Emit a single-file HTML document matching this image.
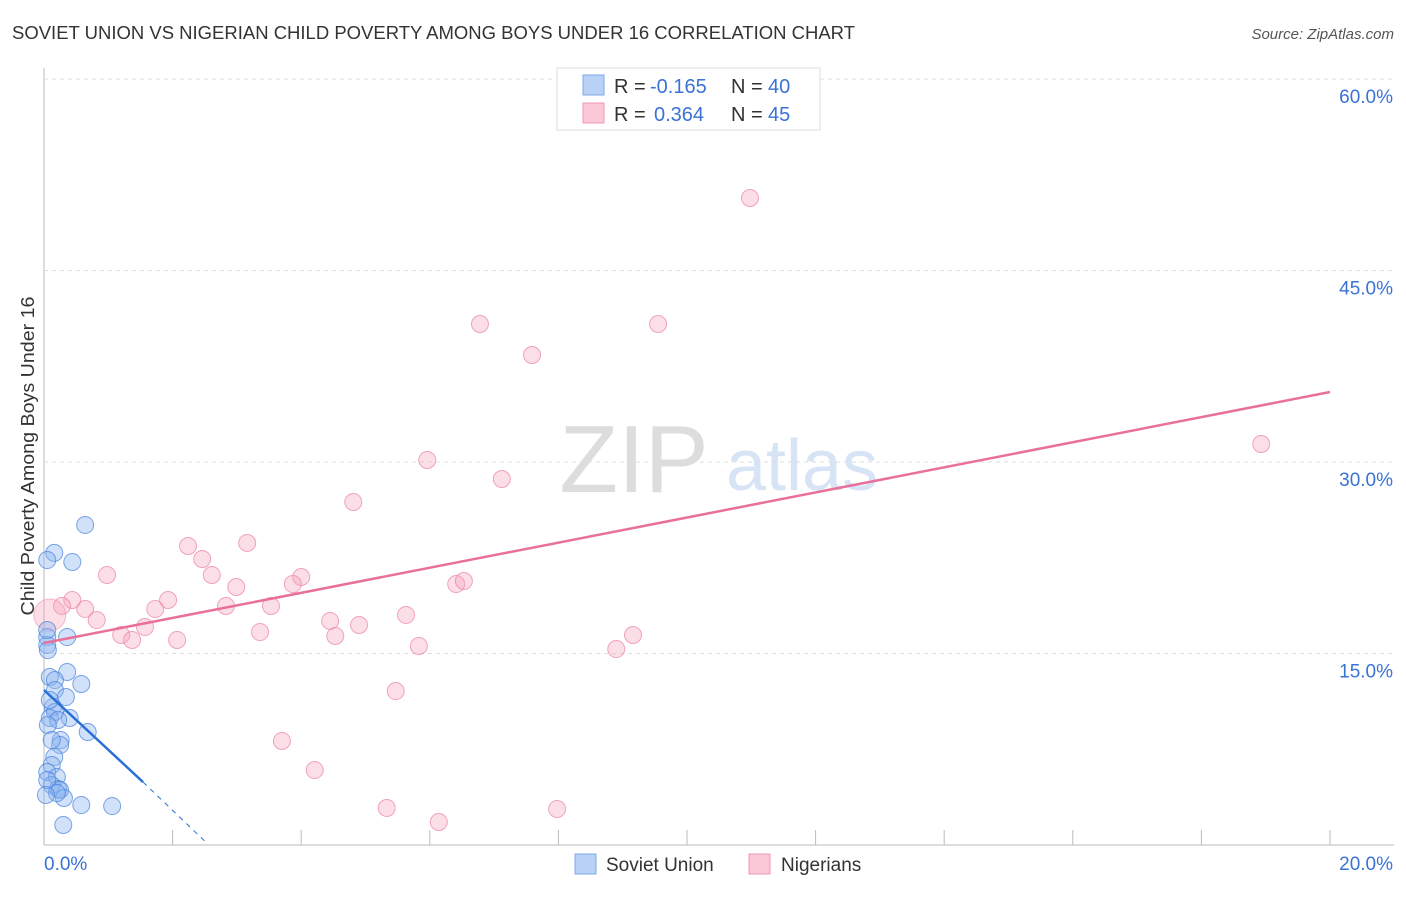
<!DOCTYPE html>
<html><head><meta charset="utf-8"><style>
body{margin:0;background:#fff;font-family:"Liberation Sans",sans-serif}
svg text{font-family:"Liberation Sans",sans-serif}
</style></head><body>
<svg id="chart" width="1406" height="892">
<text x="12" y="39" font-size="18" fill="#333" textLength="843" lengthAdjust="spacingAndGlyphs">SOVIET UNION VS NIGERIAN CHILD POVERTY AMONG BOYS UNDER 16 CORRELATION CHART</text>
<text x="1394" y="39" font-size="15" fill="#555" text-anchor="end" font-style="italic">Source: ZipAtlas.com</text>
<text x="34" y="456" font-size="18" fill="#333" text-anchor="middle" textLength="319" lengthAdjust="spacingAndGlyphs" transform="rotate(-90 34 456)">Child Poverty Among Boys Under 16</text>
<text x="634" y="492" font-size="96" fill="#ddd" text-anchor="middle" font-family="Liberation Serif">ZIP</text>
<text x="802" y="490" font-size="72" fill="#d6e4f5" text-anchor="middle">atlas</text>
<g id="grid"></g><g id="marks"></g>
<g>
<rect x="557" y="68" width="263" height="62" fill="#fff" stroke="#ddd"/>
<rect x="583" y="75" width="21" height="20" fill="#b8d1f5" stroke="#7fa9e6"/>
<rect x="583" y="103" width="21" height="20" fill="#fac8d6" stroke="#ee9ab3"/>
<text x="614" y="93" font-size="20" fill="#333">R = <tspan fill="#3a72d6" x="650">-0.165</tspan><tspan x="731">N = </tspan><tspan fill="#3a72d6" x="768">40</tspan></text>
<text x="614" y="121" font-size="20" fill="#333">R = <tspan fill="#3a72d6" x="654">0.364</tspan><tspan x="731">N = </tspan><tspan fill="#3a72d6" x="768">45</tspan></text>
</g>
<g>
<rect x="575" y="854" width="21" height="20" fill="#b8d1f5" stroke="#7fa9e6"/>
<text x="606" y="871" font-size="19" fill="#333">Soviet Union</text>
<rect x="749" y="854" width="21" height="20" fill="#fac8d6" stroke="#ee9ab3"/>
<text x="781" y="871" font-size="19" fill="#333">Nigerians</text>
</g>
</svg>
<script>
const yTicks=[15,30,45,60];
const yTickLabels=["15.0%","30.0%","45.0%","60.0%"];
const xTicks=[2,4,6,8,10,12,14,16,18,20];
const sovietX=[0.64,0.16,0.05,0.44,0.36,0.05,0.05,0.36,0.09,0.17,0.58,0.17,0.34,0.14,0.17,0.40,0.09,0.22,0.68,0.26,0.25,0.16,0.12,0.05,0.20,0.12,0.22,0.25,0.31,0.58,1.06,0.30,0.05,0.05,0.09,0.06,0.20,0.03,0.12,0.06];
const sovietY=[25.07,22.88,22.32,22.17,16.29,16.29,15.67,13.55,13.16,12.92,12.61,12.14,11.59,10.81,10.42,9.95,9.95,9.79,8.85,8.22,7.83,6.89,6.27,5.72,5.33,4.70,4.39,4.31,3.68,3.13,3.05,1.57,16.84,5.09,11.36,9.40,4.07,3.92,8.22,15.27];
const nigX=[10.98,6.78,9.55,7.59,18.93,5.96,7.12,4.81,2.24,3.16,2.46,0.98,2.61,2.99,4.00,3.87,0.44,1.93,1.73,0.64,3.53,2.83,0.28,0.82,5.63,4.45,4.90,1.57,1.20,1.37,2.07,3.36,4.53,9.16,5.83,8.90,6.41,6.53,5.47,3.70,4.21,5.33,6.14,7.98];
const nigY=[50.68,40.81,40.81,38.38,31.41,30.16,28.67,26.87,23.42,23.66,22.40,21.15,21.15,20.21,20.99,20.44,19.19,19.19,18.49,18.49,18.72,18.72,18.72,17.62,18.02,17.55,17.23,17.08,16.45,16.06,16.06,16.68,16.37,16.45,15.59,15.35,20.44,20.68,12.06,8.15,5.87,2.90,1.80,2.82];
const nigBig=[0.09,18.02];
const nigTrend=[15.82,35.48];
const sovTrend=[[0,12.14],[1.54,4.93],[2.53,0.16]];
const NS="http://www.w3.org/2000/svg";
const X=v=>44+v/20*1286, Y=v=>845-v/15*191.5;
function mk(t,a,p){const e=document.createElementNS(NS,t);for(const k in a)e.setAttribute(k,a[k]);p.appendChild(e);return e;}
const g=document.getElementById('grid'),m=document.getElementById('marks');
let ax=mk('line',{x1:44,y1:68,x2:44,y2:845,stroke:'#bbb'},g);


let bx=mk('line',{x1:44,y1:845,x2:1394,y2:845,stroke:'#bbb'},g);


yTicks.forEach((t,i)=>{
 let l=mk('line',{x1:44,x2:1394,y1:Y(t),y2:Y(t),stroke:'#ddd','stroke-dasharray':'4,4'},g);
 
 
 let tx=mk('text',{x:1393,y:Y(t)+24,'font-size':19,fill:'#3a72d6','text-anchor':'end'},g);tx.textContent=yTickLabels[i];
 
 
});
xTicks.forEach(t=>{let l=mk('line',{x1:X(t),x2:X(t),y1:830,y2:845,stroke:'#bbb'},g);
 
 });
let x0=mk('text',{x:44,y:870,'font-size':19,fill:'#3a72d6'},g);x0.textContent='0.0%';


let x1=mk('text',{x:1393,y:870,'font-size':19,fill:'#3a72d6','text-anchor':'end'},g);x1.textContent='20.0%';


nigX.forEach((v,i)=>{let c=mk('circle',{cx:X(v),cy:Y(nigY[i]),r:8.5,fill:'rgba(245,160,185,0.35)',stroke:'rgba(235,130,165,0.7)'},m);
 
 });
let bc=mk('circle',{cx:X(nigBig[0]),cy:Y(nigBig[1]),r:16,fill:'rgba(245,160,185,0.35)',stroke:'rgba(235,130,165,0.5)'},m);


sovietX.forEach((v,i)=>{let c=mk('circle',{cx:X(v),cy:Y(sovietY[i]),r:8.5,fill:'rgba(140,180,240,0.4)',stroke:'rgba(70,130,220,0.7)'},m);
 
 });
let pt=mk('line',{x1:X(0),y1:Y(nigTrend[0]),x2:X(20),y2:Y(nigTrend[1]),stroke:'#e8709a','stroke-width':2.5},m);


let st=mk('line',{x1:X(sovTrend[0][0]),y1:Y(sovTrend[0][1]),x2:X(sovTrend[1][0]),y2:Y(sovTrend[1][1]),stroke:'#2a6fd6','stroke-width':2.5},m);


let sd=mk('line',{x1:X(sovTrend[1][0]),y1:Y(sovTrend[1][1]),x2:X(sovTrend[2][0]),y2:Y(sovTrend[2][1]),stroke:'#2a6fd6','stroke-width':1,'stroke-dasharray':'5,5'},m);


</script>
</body></html>
